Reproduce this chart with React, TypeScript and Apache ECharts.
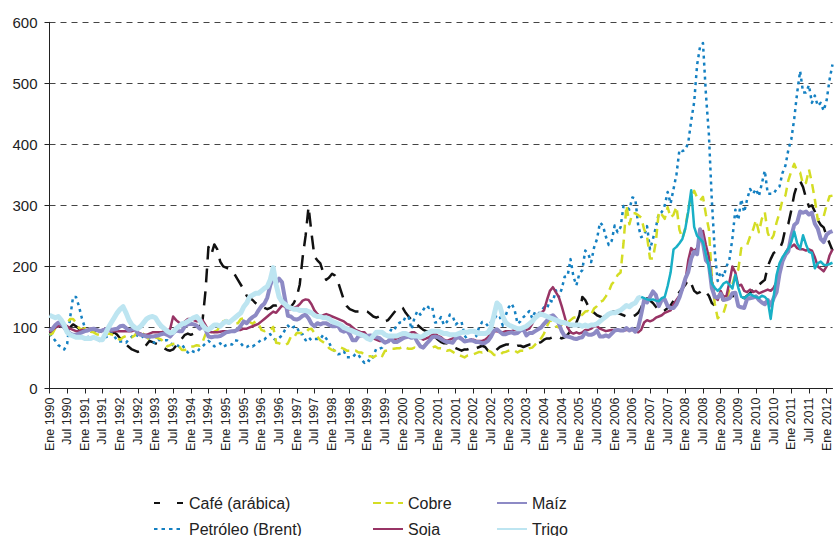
import React, { useEffect, useRef } from "react";
import * as echarts from "echarts";

// Monthly categories: Ene 1990 .. Mar 2012
const MONTHS = ["Ene", "Feb", "Mar", "Abr", "May", "Jun", "Jul", "Ago", "Sep", "Oct", "Nov", "Dic"];
const FIRST_YEAR = 1990;
const N_MONTHS = 267;
const categories: string[] = Array.from({ length: N_MONTHS }, (_, i) => `${MONTHS[i % 12]} ${FIRST_YEAR + Math.floor(i / 12)}`);

const yTicks = [0, 100, 200, 300, 400, 500, 600];

// Café (arábica)
const cafe = [
  92, 95, 100, 103, 100, 98, 96, 100, 105, 102, 98, 100, // 1990
  100, 98, 97, 96, 95, 94, 92, 90, 88, 90, 92, 88, // 1991
  82, 78, 72, 68, 64, 62, 60, 62, 66, 72, 78, 76, // 1992
  74, 72, 70, 66, 63, 62, 64, 70, 76, 82, 88, 90, // 1993
  88, 90, 94, 100, 112, 160, 232, 220, 236, 228, 208, 200, // 1994
  198, 196, 192, 186, 178, 170, 162, 152, 148, 145, 140, 136, // 1995
  134, 132, 130, 132, 136, 136, 138, 136, 134, 132, 134, 140, // 1996
  150, 170, 215, 250, 298, 255, 216, 210, 205, 190, 178, 182, // 1997
  188, 185, 175, 160, 145, 135, 130, 128, 126, 126, 128, 128, // 1998
  126, 122, 118, 116, 118, 114, 110, 112, 118, 124, 130, 134, // 1999
  132, 124, 118, 112, 108, 104, 100, 96, 94, 94, 90, 84, // 2000
  80, 76, 74, 74, 72, 68, 66, 64, 62, 64, 64, 66, // 2001
  68, 66, 68, 70, 68, 62, 62, 60, 64, 68, 70, 72, // 2002
  72, 70, 68, 70, 70, 68, 70, 72, 72, 72, 74, 76, // 2003
  80, 82, 82, 84, 86, 84, 82, 84, 88, 94, 102, 108, // 2004
  120, 150, 145, 135, 128, 124, 120, 118, 116, 120, 124, 126, // 2005
  126, 124, 122, 120, 118, 116, 118, 120, 124, 132, 146, 148, // 2006
  144, 140, 134, 128, 126, 128, 132, 136, 144, 152, 158, 164, // 2007
  170, 178, 172, 160, 156, 158, 162, 158, 152, 140, 136, 140, // 2008
  144, 146, 146, 148, 152, 150, 148, 150, 148, 152, 156, 162, // 2009
  168, 170, 174, 178, 200, 212, 222, 225, 228, 240, 262, 270, // 2010
  292, 318, 334, 340, 330, 312, 298, 300, 290, 276, 268, 264, // 2011
  250, 238, 226, // 2012
];

// Petróleo (Brent)
const petroleo = [
  90, 84, 78, 71, 68, 64, 73, 116, 150, 150, 135, 115,
  100, 84, 81, 82, 82, 78, 82, 84, 86, 92, 86, 78,
  77, 77, 75, 81, 85, 90, 86, 83, 86, 86, 82, 77,
  74, 79, 80, 79, 79, 75, 71, 72, 69, 72, 65, 59,
  63, 60, 59, 65, 69, 74, 78, 74, 69, 71, 74, 68,
  71, 73, 72, 79, 78, 74, 68, 68, 71, 69, 72, 76,
  80, 80, 86, 89, 82, 79, 83, 87, 96, 103, 98, 101,
  102, 89, 89, 79, 84, 79, 81, 81, 81, 88, 82, 75,
  65, 61, 56, 57, 61, 51, 51, 51, 57, 55, 47, 42,
  47, 44, 53, 65, 65, 67, 81, 86, 96, 94, 105, 108,
  108, 118, 117, 97, 116, 127, 121, 129, 136, 132, 134, 108,
  109, 117, 104, 109, 121, 118, 105, 109, 109, 87, 80, 79,
  82, 86, 101, 109, 108, 102, 109, 113, 121, 117, 103, 120,
  133, 139, 129, 106, 110, 117, 121, 127, 115, 126, 122, 127,
  133, 131, 144, 142, 161, 150, 163, 183, 184, 212, 183, 169,
  188, 194, 226, 221, 207, 231, 245, 272, 267, 249, 235, 242,
  267, 256, 264, 299, 298, 293, 313, 311, 267, 248, 250, 266,
  228, 245, 264, 287, 289, 300, 322, 303, 327, 351, 391, 389,
  391, 403, 439, 469, 530, 560, 566, 482, 417, 309, 225, 176,
  191, 183, 200, 212, 246, 293, 276, 310, 289, 310, 327, 319,
  327, 315, 336, 357, 319, 319, 319, 327, 331, 353, 365, 391,
  408, 442, 485, 520, 485, 485, 497, 468, 480, 463, 468, 455,
  472, 506, 531,
];

// Cobre
const cobre = [
  88, 90, 99, 104, 106, 99, 107, 114, 114, 108, 99, 97,
  99, 97, 93, 92, 89, 88, 87, 88, 90, 89, 86, 82,
  80, 84, 86, 85, 84, 87, 95, 93, 89, 84, 80, 82,
  84, 82, 80, 75, 69, 71, 73, 74, 69, 63, 63, 65,
  69, 69, 71, 70, 76, 89, 90, 89, 93, 95, 104, 110,
  112, 109, 107, 107, 107, 114, 115, 114, 109, 106, 110, 106,
  96, 94, 96, 96, 101, 75, 74, 72, 71, 74, 85, 83,
  91, 91, 91, 91, 97, 98, 91, 85, 79, 76, 72, 66,
  63, 62, 66, 67, 65, 62, 62, 61, 62, 59, 59, 55,
  53, 53, 51, 54, 57, 53, 62, 62, 65, 65, 66, 66,
  69, 67, 65, 65, 67, 65, 67, 69, 74, 71, 67, 69,
  66, 66, 65, 62, 63, 60, 57, 55, 53, 51, 54, 55,
  56, 58, 60, 59, 60, 62, 60, 55, 55, 55, 59, 60,
  62, 63, 62, 59, 62, 62, 64, 66, 67, 72, 77, 82,
  90, 102, 112, 110, 102, 100, 105, 106, 108, 112, 116, 117,
  118, 121, 126, 127, 121, 131, 135, 142, 144, 151, 159, 171,
  176, 186, 190, 238, 300, 269, 287, 287, 284, 280, 261, 249,
  213, 213, 241, 290, 285, 278, 297, 280, 285, 298, 260, 246,
  263, 294, 315, 324, 313, 308, 314, 285, 261, 184, 139, 115,
  120, 124, 140, 165, 171, 187, 195, 230, 231, 235, 249, 260,
  276, 256, 278, 289, 255, 243, 251, 272, 288, 309, 316, 341,
  356, 368, 356, 354, 334, 337, 359, 337, 310, 276, 283, 282,
  300, 315, 316,
];

// Maíz
const maiz = [
  95, 98, 104, 108, 106, 100, 94, 90, 88, 88, 90, 92,
  94, 95, 97, 98, 96, 94, 95, 97, 98, 96, 97, 98,
  102, 103, 99, 95, 97, 98, 90, 88, 87, 85, 85, 85,
  86, 87, 89, 90, 88, 85, 91, 95, 94, 94, 102, 105,
  106, 105, 103, 98, 102, 97, 85, 84, 85, 85, 86, 89,
  92, 93, 94, 94, 97, 103, 110, 107, 113, 117, 120, 128,
  135, 139, 149, 169, 182, 173, 180, 174, 147, 119, 118, 114,
  113, 115, 119, 121, 115, 106, 102, 107, 105, 107, 107, 104,
  102, 102, 103, 95, 93, 95, 89, 79, 79, 86, 87, 87,
  86, 87, 85, 84, 83, 79, 75, 77, 82, 76, 76, 79,
  82, 84, 85, 83, 85, 76, 69, 67, 73, 78, 84, 85,
  84, 81, 78, 76, 76, 75, 82, 84, 81, 77, 78, 79,
  78, 76, 76, 74, 75, 78, 85, 95, 97, 93, 89, 89,
  91, 92, 90, 91, 95, 97, 87, 91, 91, 94, 97, 100,
  106, 111, 118, 120, 115, 107, 94, 86, 85, 84, 82, 81,
  83, 84, 92, 88, 88, 90, 95, 85, 85, 87, 85, 90,
  95, 96, 95, 95, 99, 95, 98, 93, 100, 121, 145, 141,
  150, 159, 153, 135, 145, 146, 135, 132, 132, 138, 149, 164,
  180, 191, 213, 224, 220, 261, 238, 210, 204, 165, 150, 149,
  155, 145, 146, 148, 156, 157, 135, 133, 132, 147, 148, 149,
  151, 145, 141, 138, 145, 136, 148, 158, 188, 208, 219, 225,
  250, 268, 272, 290, 288, 290, 285, 288, 270, 262, 245, 240,
  252, 256, 258,
];

// Soja
const soja = [
  92, 96, 100, 102, 104, 104, 102, 98, 96, 94, 94, 96,
  96, 96, 98, 98, 96, 94, 96, 98, 96, 94, 94, 94,
  94, 94, 94, 94, 94, 96, 92, 90, 88, 88, 90, 92,
  92, 92, 92, 94, 94, 98, 118, 112, 108, 106, 110, 114,
  114, 112, 110, 110, 112, 104, 94, 92, 92, 92, 93, 94,
  94, 94, 94, 95, 96, 96, 98, 98, 100, 102, 104, 106,
  110, 114, 118, 122, 126, 124, 130, 136, 134, 130, 130, 132,
  134, 138, 144, 146, 145, 138, 128, 122, 118, 120, 122, 120,
  118, 116, 114, 112, 110, 106, 104, 100, 96, 94, 92, 92,
  86, 84, 82, 80, 78, 78, 76, 78, 80, 80, 82, 84,
  86, 88, 90, 92, 92, 88, 82, 80, 82, 84, 88, 90,
  86, 84, 80, 78, 80, 82, 86, 86, 82, 78, 78, 80,
  80, 78, 78, 78, 80, 84, 92, 94, 94, 92, 92, 94,
  94, 94, 96, 96, 96, 98, 96, 98, 106, 118, 122, 124,
  128, 145, 160, 166, 158, 150, 135, 118, 100, 92, 90, 92,
  90, 92, 96, 96, 98, 102, 102, 98, 96, 94, 95, 96,
  96, 96, 95, 95, 96, 96, 96, 94, 92, 96, 108, 112,
  110, 112, 116, 118, 120, 124, 126, 128, 138, 145, 152, 162,
  175, 210, 230, 225, 230, 245, 258, 235, 215, 175, 150, 145,
  160, 150, 152, 175, 200, 190, 168, 170, 160, 158, 162, 158,
  160, 156, 158, 160, 162, 160, 165, 175, 195, 210, 222, 230,
  232, 236, 230, 228, 228, 226, 228, 226, 215, 200, 196, 192,
  200, 218, 228,
];

// Trigo (drawn light blue up to Oct 2006, then teal)
const trigo = [
  120, 118, 116, 118, 112, 104, 92, 88, 86, 84, 84, 84,
  82, 82, 82, 84, 82, 80, 80, 90, 100, 108, 116, 124,
  130, 134, 124, 112, 104, 100, 98, 102, 108, 114, 117, 118,
  116, 108, 102, 98, 94, 91, 92, 98, 102, 106, 107, 110,
  113, 116, 118, 112, 104, 98, 96, 100, 104, 104, 102, 107,
  110, 108, 112, 116, 120, 124, 134, 140, 150, 153, 156, 156,
  160, 164, 167, 178, 198, 170, 150, 142, 138, 134, 132, 130,
  130, 128, 128, 128, 126, 124, 120, 118, 118, 116, 116, 114,
  110, 108, 106, 104, 100, 98, 96, 94, 92, 90, 88, 86,
  82, 80, 86, 92, 92, 92, 88, 86, 86, 86, 86, 88,
  90, 90, 88, 86, 86, 86, 84, 86, 90, 92, 94, 94,
  94, 92, 90, 90, 88, 88, 88, 90, 92, 92, 92, 94,
  94, 92, 90, 90, 90, 92, 100, 120, 140, 135, 118, 108,
  104, 102, 100, 98, 98, 100, 102, 106, 110, 116, 120, 122,
  120, 118, 116, 114, 112, 110, 108, 108, 106, 104, 104, 104,
  104, 102, 104, 102, 104, 104, 106, 110, 114, 118, 122, 124,
  124, 126, 128, 132, 136, 134, 138, 140, 148, 150, 148, 146,
  145, 146, 144, 143, 148, 150, 168, 190, 228, 232, 238, 245,
  262, 290, 325, 265, 250, 245, 240, 220, 200, 172, 165, 160,
  165, 172, 175, 170, 164, 186, 165, 150, 148, 152, 155, 152,
  150, 148, 152, 150, 145, 114, 150, 186, 205, 215, 222, 229,
  240, 257, 238, 229, 251, 236, 224, 222, 197, 205, 208, 203,
  202, 204, 206,
];
const TRIGO_SPLIT = 201; // Oct 2006

const FONT = "'Liberation Sans', Arial, Helvetica, sans-serif";

export default function App() {
  const ref = useRef<HTMLDivElement>(null);

  useEffect(() => {
    if (!ref.current) return;
    const chart = echarts.init(ref.current, undefined, { renderer: "svg" });

    const trigoA = trigo.map((v, i) => (i <= TRIGO_SPLIT ? v : null));
    const trigoB = trigo.map((v, i) => (i >= TRIGO_SPLIT ? v : null));

    const showEvery6 = (index: number) => index % 6 === 0;

    const legendItem = (name: string, left: number, top: number, lineType: any) => ({
      data: [name],
      left,
      top,
      padding: 0,
      itemWidth: 30,
      itemHeight: 14,
      itemGap: 0,
      selectedMode: false,
      itemStyle: { opacity: 0 },
      lineStyle: { type: lineType || "solid", opacity: 1 },
      textStyle: { fontSize: 16, color: "#222", fontFamily: FONT, padding: [0, 0, 0, 0] },
    });

    const line = (name: string, data: any[], color: string, width: number, type: any, z: number) => ({
      name,
      type: "line",
      data,
      symbol: "none",
      showSymbol: false,
      connectNulls: false,
      z,
      lineStyle: { color, width, type, cap: "butt", join: "round" },
      itemStyle: { color },
      emphasis: { disabled: true },
    });

    chart.setOption({
      animation: false,
      textStyle: { fontFamily: FONT },
      grid: { left: 49.5, right: 1.5, top: 22.3, bottom: 147.5, containLabel: false },
      legend: [
        legendItem("Café (arábica)", 153, 495, [6, 17]),
        legendItem("Cobre", 372, 495, [8, 4.5]),
        legendItem("Maíz", 496, 495, null),
        legendItem("Petróleo (Brent)", 153, 521, [3.5, 4]),
        legendItem("Soja", 372, 521, null),
        legendItem("Trigo", 496, 521, null),
      ],
      xAxis: {
        type: "category",
        data: categories,
        boundaryGap: false,
        axisLine: { show: true, lineStyle: { color: "#222", width: 1 } },
        axisTick: { show: true, interval: showEvery6, length: 5, lineStyle: { color: "#222" } },
        axisLabel: {
          interval: showEvery6,
          rotate: 90,
          fontSize: 12.5,
          color: "#222",
          margin: 9,
          fontFamily: FONT,
        },
        splitLine: { show: false },
      },
      yAxis: {
        type: "value",
        min: yTicks[0],
        max: yTicks[yTicks.length - 1],
        interval: 100,
        axisLine: { show: true, lineStyle: { color: "#222", width: 1 } },
        axisTick: { show: true, length: 5, lineStyle: { color: "#222" } },
        axisLabel: { fontSize: 15, color: "#222", margin: 12, fontFamily: FONT },
        splitLine: { show: true, lineStyle: { color: "#444", type: [6, 5], width: 1 } },
      },
      series: [
        line("Café (arábica)", cafe, "#111111", 2.5, [14, 9], 2),
        line("Petróleo (Brent)", petroleo, "#1480c2", 2.5, [3, 4], 3),
        line("Cobre", cobre, "#d4dd24", 2.5, [9, 6], 4),
        line("Soja", soja, "#983465", 2.5, "solid", 5),
        line("Maíz", maiz, "#8d8ac5", 4, "solid", 6),
        line("Trigo", trigoA, "#bde5f1", 5, "solid", 7),
        line("Trigo ", trigoB, "#19b0c6", 2.5, "solid", 8),
      ],
    });

    return () => chart.dispose();
  }, []);

  return (
    <div
      ref={ref}
      style={{ position: "fixed", left: 0, top: 0, width: 834, height: 536, background: "#fff" }}
    />
  );
}
